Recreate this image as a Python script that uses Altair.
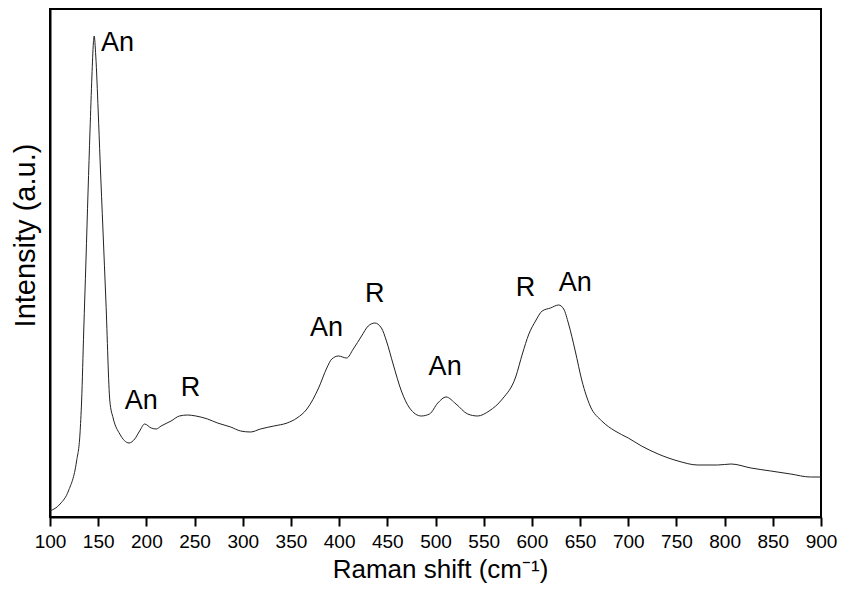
import altair as alt
import pandas as pd

# Raman spectrum (intensity in arbitrary units)
shift = [100.0, 110.5, 119.1, 127.6, 131.1, 132.8, 135.0, 137.3, 139.5, 141.5,
         143.5, 145.0, 145.8, 147.5, 150.0, 152.0, 155.0, 158.0, 162.1, 165.5,
         172.4, 182.0, 187.9, 193.0, 198.2, 205.0, 210.1, 215.3, 225.6, 234.3,
         242.8, 251.4, 263.5, 273.8, 287.5, 297.8, 308.1, 318.4, 332.3, 346.0,
         356.3, 366.6, 378.7, 387.2, 392.4, 399.3, 407.8, 414.7, 423.3, 430.2,
         437.0, 443.9, 449.1, 456.0, 464.6, 473.1, 485.2, 493.8, 502.4, 511.0,
         521.3, 533.4, 543.7, 555.6, 569.4, 583.2, 590.1, 596.9, 603.8, 610.7,
         619.3, 627.8, 633.0, 638.1, 645.0, 652.0, 660.5, 672.6, 686.3, 700.0,
         713.8, 731.0, 751.6, 772.2, 792.8, 806.7, 827.3, 847.9, 868.5, 889.1,
         900.0]
intensity = [6, 13, 26, 56, 83, 116, 186, 256, 326, 386,
             441, 474, 481, 461, 406, 356, 286, 216, 116, 99,
             83, 74, 78, 86, 93, 89, 88, 91, 96, 101,
             102, 101, 98, 94, 90, 86, 85, 88, 91, 94,
             99, 108, 129, 149, 158, 161, 159, 168, 181, 191,
             194, 189, 176, 153, 126, 109, 101, 103, 114, 120,
             113, 103, 101, 106, 118, 140, 163, 183, 196, 206,
             209, 212, 208, 193, 166, 136, 111, 96, 86, 79,
             71, 63, 56, 52, 52, 53, 49, 46, 43, 40,
             40]

# Peak annotations
label_text = ["An", "An", "R", "An", "R", "An", "R", "An"]
label_x = [170.1, 194.7, 245.9, 386.9, 437.0, 510.0, 593.5, 645.1]
label_y = [474, 116, 129, 189, 223, 150, 229, 234]

x_ticks = list(range(100, 901, 50))

spec = pd.DataFrame({"shift": shift, "intensity": intensity})
labels = pd.DataFrame({"text": label_text, "x": label_x, "y": label_y})

FONT = "Liberation Sans"

x_scale = alt.Scale(domain=[100, 900], nice=False, zero=False)
y_scale = alt.Scale(domain=[0, 508], nice=False, zero=False)

x_axis = alt.Axis(
    values=x_ticks, grid=False,
    labelFont=FONT, labelFontSize=19, labelColor="black", labelPadding=6,
    labelFlush=False, labelOverlap=False, labelBound=False,
    tickColor="black", tickWidth=2, tickSize=9,
    domainColor="black", domainWidth=2,
    title="Raman shift (cm⁻¹)", titleFont=FONT, titleFontSize=26,
    titleFontWeight="normal", titleColor="black",
    titleX=390, titleY=52, titleBaseline="middle", titleAlign="center",
)
y_axis = alt.Axis(
    labels=False, ticks=False, grid=False,
    domainColor="black", domainWidth=2,
    title="Intensity (a.u.)", titleFont=FONT, titleFontSize=29,
    titleFontWeight="normal", titleColor="black",
    titleAngle=270, titleX=-25, titleY=226,
    titleBaseline="middle", titleAlign="center",
)

line = alt.Chart(spec).mark_line(
    color="#222222", strokeWidth=1, interpolate="monotone"
).encode(
    x=alt.X("shift:Q", scale=x_scale, axis=x_axis),
    y=alt.Y("intensity:Q", scale=y_scale, axis=y_axis),
)

text = alt.Chart(labels).mark_text(
    font=FONT, fontSize=27, color="black", align="center", baseline="middle"
).encode(
    x=alt.X("x:Q", scale=x_scale),
    y=alt.Y("y:Q", scale=y_scale),
    text="text:N",
)

chart = alt.layer(line, text).properties(
    width=771, height=508,
    background="white",
    autosize=alt.AutoSizeParams(type="none"),
    padding={"left": 42, "top": 1, "right": 16, "bottom": 68},
).configure_view(stroke="black", strokeWidth=2)

chart.save("out.html", embed_options={"renderer": "svg", "actions": False})
